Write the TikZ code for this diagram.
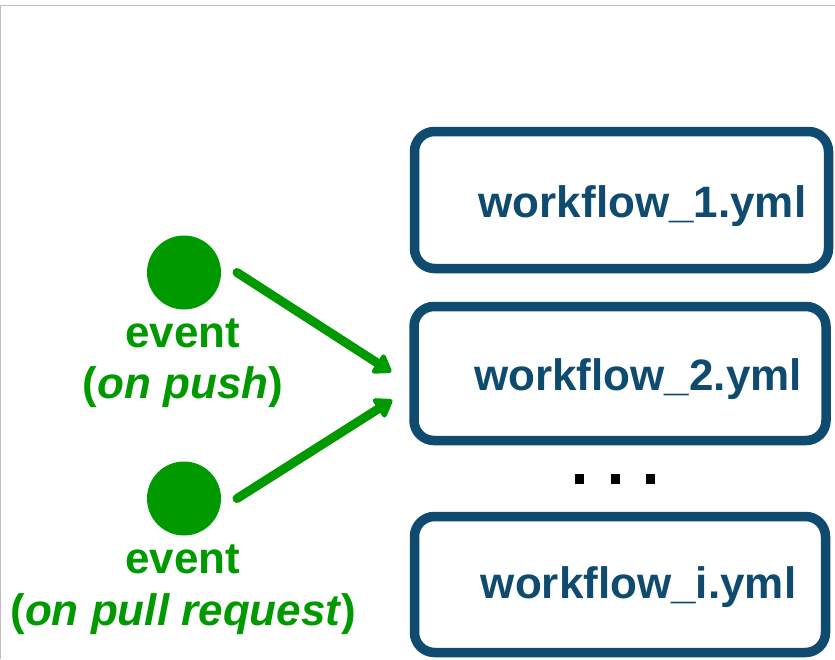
\documentclass[tikz,border=0pt]{standalone}
\usepackage{fontspec}
\setmainfont{Liberation Sans}
\usetikzlibrary{arrows.meta,calc}
\definecolor{wfblue}{RGB}{14,75,110}
\definecolor{evgreen}{RGB}{0,153,0}
\definecolor{framegray}{RGB}{190,190,190}
\tikzset{
  wfbox/.style={draw=wfblue, line width=9.5pt, rounded corners=20pt, inner sep=0pt},
  wftext/.style={text=wfblue, font=\fontsize{44}{50}\selectfont\bfseries, anchor=base, inner sep=0pt},
  evdot/.style={circle, fill=evgreen, minimum size=74pt, inner sep=0pt},
  evtext/.style={text=evgreen, font=\fontsize{44}{50}\selectfont\bfseries, anchor=base, inner sep=0pt},
  evarrow/.style={draw=evgreen, line width=9pt, line cap=round, -{Triangle[length=19pt,width=25pt,round]}},
  dotsq/.style={fill=black, minimum size=9.5pt, inner sep=0pt},
}
\begin{document}
\begin{tikzpicture}[x=1pt,y=-1pt]
\useasboundingbox (0,0) rectangle (835,659);
% frame lines
\draw[framegray, line width=1pt] (0,5) -- (835,5);
\draw[framegray, line width=1pt] (0.5,5) -- (0.5,659);
% boxes
\node[wfbox, minimum width=414pt, minimum height=137pt] (wf1) at (621.5,200) {};
\node[wfbox, minimum width=412pt, minimum height=134pt] (wf2) at (620,373.5) {};
\node[wfbox, minimum width=411pt, minimum height=136pt] (wf3) at (620,584.5) {};
\node[wftext] (wf1t) at (642.5,217) {workflow\_1.yml};
\node[wftext] (wf2t) at (638,390) {workflow\_2.yml};
\node[wftext] (wf3t) at (638.5,598) {workflow\_i.yml};
% dots
\node[dotsq] (d1) at (579.5,479) {};
\node[dotsq] (d2) at (615.5,479) {};
\node[dotsq] (d3) at (650.5,479) {};
% events
\node[evdot] (e1) at (184,272.5) {};
\node[evdot] (e2) at (184,498.5) {};
\node[evtext] (e1a) at (183,347) {event};
\node[evtext] (e1b) at (183,398) {(\textit{on push})};
\node[evtext] (e2a) at (183,573) {event};
\node[evtext] (e2b) at (183.5,625) {(\textit{on pull request})};
% arrows
\coordinate (t1) at ($(wf2.west)+(-18,-1.5)$);
\coordinate (t2) at ($(wf2.west)+(-17,26.5)$);
\draw[evarrow] ($(e1.center)+(53,0)$) -- (t1);
\draw[evarrow] ($(e2.center)+(53,0)$) -- (t2);
\end{tikzpicture}
\end{document}
